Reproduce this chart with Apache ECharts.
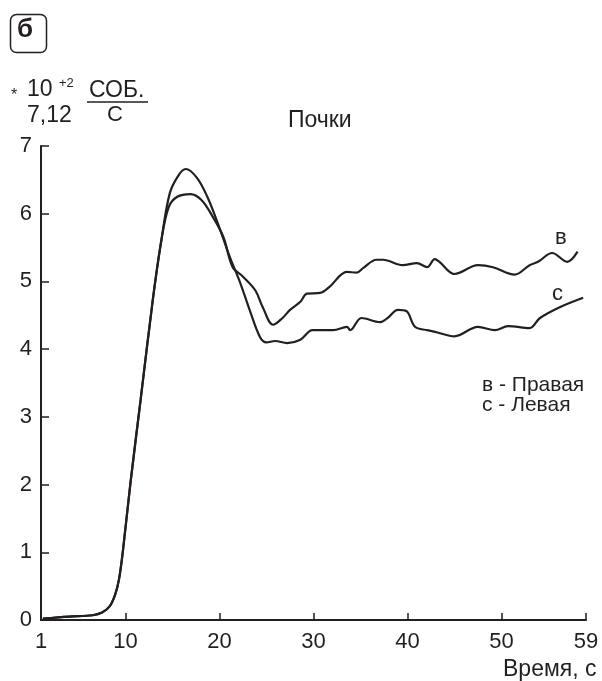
<!DOCTYPE html>
<html>
<head>
<meta charset="utf-8">
<script src="https://cdn.jsdelivr.net/npm/echarts@6/dist/echarts.min.js"></script>
<style>
  html, body { margin: 0; padding: 0; background: #fff; }
  #chart { width: 602px; height: 681px; }
</style>
</head>
<body>
<div id="chart"></div>
<script>
// время, с
var xTicks = [1, 10, 20, 30, 40, 50, 59];
var yTicks = [0, 1, 2, 3, 4, 5, 6, 7];

// общий начальный участок обеих кривых
var riseX = [1.2, 4, 6.5, 7.5, 8.3, 8.9, 9.3, 9.7, 10.5, 11.6, 12.9, 13.8];
var riseY = [0.02, 0.05, 0.07, 0.11, 0.2, 0.38, 0.6, 1.0, 2.0, 3.25, 4.73, 5.6];

// в - Правая
var rightX = [14.6, 15.5, 16.9, 18.1, 19.3, 20.4, 21.4, 22.5, 23.8, 24.6, 25.7, 26.7, 27.5, 28.6, 29.3, 30.7, 31.7, 33.55, 34.6, 35.3, 36.7, 37.4, 39.5, 41.0, 42.1, 42.9, 43.4, 45.0, 47.5, 49.1, 51.4, 53.0, 53.9, 55.4, 57.0, 58.1];
var rightY = [6.1, 6.25, 6.29, 6.2, 5.95, 5.66, 5.21, 5.07, 4.87, 4.62, 4.36, 4.46, 4.58, 4.70, 4.82, 4.83, 4.92, 5.14, 5.13, 5.2, 5.32, 5.32, 5.24, 5.27, 5.21, 5.33, 5.29, 5.11, 5.24, 5.21, 5.1, 5.24, 5.29, 5.42, 5.29, 5.44];

// с - Левая
var leftX = [14.7, 15.6, 16.4, 17.6, 18.7, 19.7, 21.1, 22.2, 23.2, 24.3, 25.0, 25.9, 27.2, 28.6, 29.9, 32.1, 33.55, 33.9, 35.1, 37.1, 37.8, 39.0, 39.9, 40.8, 42.1, 43.1, 45.0, 47.5, 49.3, 50.7, 53.0, 54.1, 56.2, 58.7];
var leftY = [6.3, 6.56, 6.66, 6.53, 6.25, 5.9, 5.36, 4.98, 4.58, 4.18, 4.1, 4.12, 4.09, 4.14, 4.28, 4.28, 4.33, 4.28, 4.46, 4.40, 4.45, 4.58, 4.56, 4.33, 4.28, 4.25, 4.19, 4.33, 4.28, 4.34, 4.31, 4.46, 4.62, 4.76];

function toPairs(xs, ys) {
  var out = [];
  for (var i = 0; i < xs.length; i++) {
    out.push([xs[i], ys[i]]);
  }
  return out;
}

var rightData = toPairs(riseX, riseY).concat(toPairs(rightX, rightY));
var leftData = toPairs(riseX, riseY).concat(toPairs(leftX, leftY));

var ink = '#231f20';
var font = 'Liberation Sans, Arial, sans-serif';

function label(txt, x, y, size, extra) {
  var style = { text: txt, fontSize: size, fontFamily: font, fill: ink };
  if (extra) style.fontWeight = extra;
  return { type: 'text', left: x, top: y, style: style };
}

var myChart = echarts.init(document.getElementById('chart'));

var option = {
  animation: false,
  grid: { left: 41, right: 16, top: 146, bottom: 61 },
  xAxis: {
    type: 'value',
    min: 1,
    max: 59,
    splitLine: { show: false },
    axisLine: { lineStyle: { color: ink, width: 2 } },
    axisTick: { inside: true, length: 7, lineStyle: { color: ink, width: 1.5 }, customValues: [10, 20, 30, 40, 50, 59] },
    axisLabel: { customValues: xTicks, color: ink, fontSize: 22, fontFamily: font, margin: 11 }
  },
  yAxis: {
    type: 'value',
    min: 0,
    max: 7,
    interval: 1,
    splitLine: { show: false },
    axisLine: { show: true, lineStyle: { color: ink, width: 2 } },
    axisTick: { show: true, inside: true, length: 8, lineStyle: { color: ink, width: 1.5 } },
    axisLabel: { color: ink, fontSize: 22, fontFamily: font, margin: 9 }
  },
  series: [{
    name: 'в - Правая',
    type: 'line',
    data: rightData,
    smooth: 0.35,
    symbol: 'none',
    lineStyle: { color: ink, width: 2.2 }
  }, {
    name: 'с - Левая',
    type: 'line',
    data: leftData,
    smooth: 0.35,
    symbol: 'none',
    lineStyle: { color: ink, width: 2.2 }
  }],
  graphic: [
    { type: 'rect', left: 8, top: 12, shape: { width: 36, height: 38, r: 6 }, style: { fill: 'none', stroke: ink, lineWidth: 1.5 } },
    label('б', 17, 17, 26, 'bold'),
    label('*', 11, 88, 16),
    label('10', 27, 78, 23),
    label('+2', 59, 77, 13),
    label('СОБ.', 89, 79, 23),
    { type: 'line', shape: { x1: 87, y1: 102, x2: 148, y2: 102 }, style: { stroke: ink, lineWidth: 1.5 } },
    label('7,12', 27, 104, 23),
    label('С', 107, 104, 22),
    label('Почки', 288, 109, 23),
    label('в', 555, 227, 22),
    label('с', 552, 283, 22),
    label('в - Правая', 482, 375, 21),
    label('с - Левая', 482, 395, 21),
    label('Время, с', 503, 658, 23)
  ]
};

myChart.setOption(option);
</script>
</body>
</html>
